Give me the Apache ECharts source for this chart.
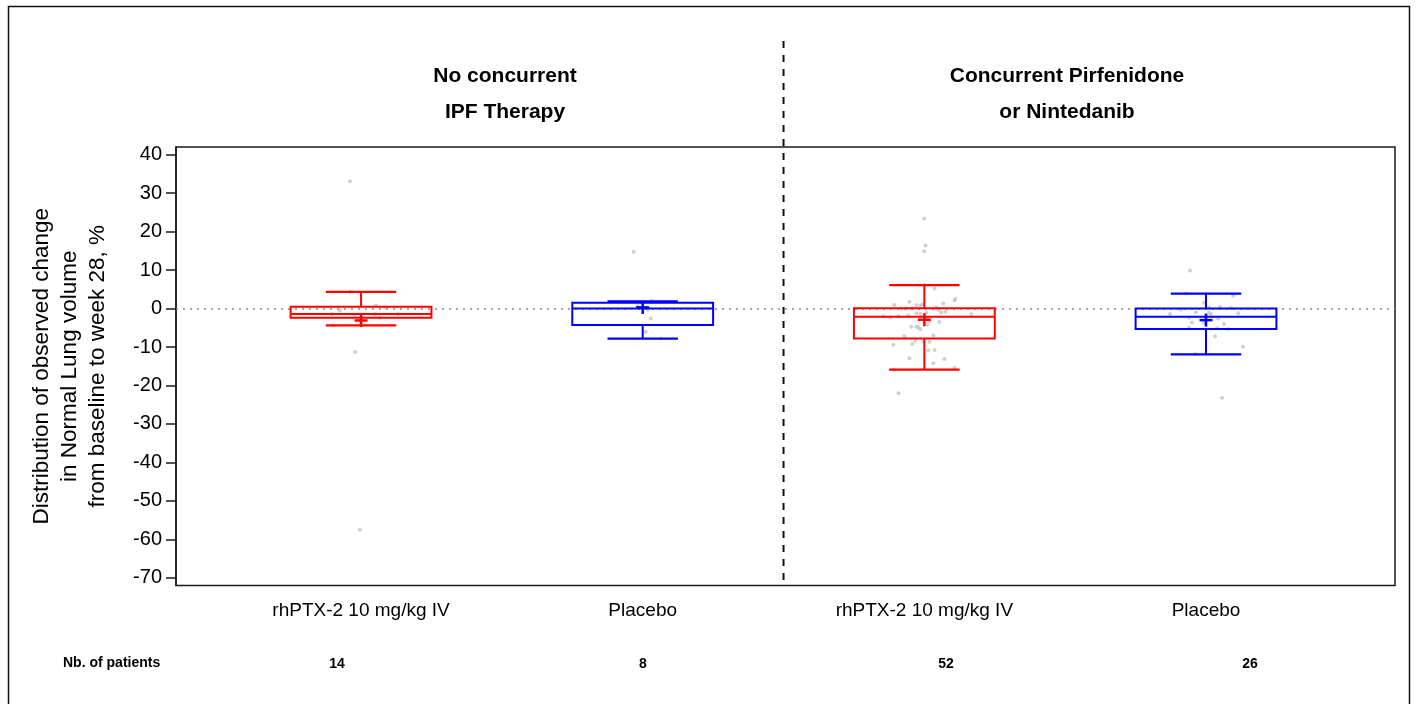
<!DOCTYPE html>
<html><head><meta charset="utf-8">
<script src="https://cdn.jsdelivr.net/npm/echarts@6/dist/echarts.min.js"></script>
<style>html,body{margin:0;padding:0;background:#fff}#c{width:1416px;height:704px}</style>
</head><body><div id="c"></div>
<script>
// ---------------- data ----------------
const categories = ['rhPTX-2 10 mg/kg IV', 'Placebo', 'rhPTX-2 10 mg/kg IV', 'Placebo'];
const panelTitles = ['No concurrent\nIPF Therapy', 'Concurrent Pirfenidone\nor Nintedanib'];
const patientLabel = 'Nb. of patients';
const patientCounts = [14, 8, 52, 26];
const yTicks = [-70, -60, -50, -40, -30, -20, -10, 0, 10, 20, 30, 40];
const yTitle = 'Distribution of observed change\nin Normal Lung volume\nfrom baseline to week 28, %';
const separatorAt = 2.5;
// box statistics: [lower whisker, Q1, median, Q3, upper whisker, mean]
const boxStats = [
  [-4.35, -2.4, -1.4, 0.45, 4.35, -3.1],
  [-7.8, -4.25, 0.0, 1.5, 1.9, 0.3],
  [-15.9, -7.8, -2.1, 0.1, 6.1, -2.9],
  [-11.9, -5.3, -2.1, 0.0, 3.9, -3.0]
];
// individual observations: [horizontal jitter (category units), value]
const pts1 = [[-0.039, 33.1], [-0.004, -57.5], [-0.021, -11.3], [-0.039, 4.35], [0.053, 0.8], [-0.075, -0.5], [-0.103, -1.4],
  [-0.025, -1.65], [0.050, -1.4], [0.067, -2.4], [0.131, -1.4], [-0.099, -4.35], [0.000, -3.0], [0.085, 0.3]];
const pts2 = [[-0.032, 14.75], [0.032, 2.0], [-0.018, 0.6], [0.028, -2.6], [0.011, -6.0], [0.064, -7.8], [0.000, 1.5], [0.018, -0.3]];
const pts3 = [[0.036, 5.2], [0.110, 2.5], [0.107, 2.1], [0.067, 1.3], [-0.107, 0.9], [-0.028, 0.9], [-0.007, 1.1], [-0.053, 1.8],
  [-0.064, 0.0], [-0.082, 0.0], [0.050, -0.35], [0.075, -0.8], [0.167, -1.4], [-0.028, -1.2], [-0.014, -1.4], [-0.146, -2.0],
  [-0.121, -2.3], [-0.092, -2.0], [-0.057, -1.8], [0.004, -2.95], [0.018, -3.3], [-0.046, -4.7], [-0.028, -4.7], [-0.021, -4.9],
  [-0.014, -5.4], [0.011, -4.2], [-0.071, -7.2], [0.032, -7.0], [-0.032, -8.4], [-0.043, -9.2], [-0.004, -8.6], [0.018, -8.6],
  [-0.110, -9.4], [0.014, -10.9], [0.036, -10.8], [-0.053, -12.9], [0.071, -13.1], [0.032, -14.2], [0.107, -15.4], [-0.107, -15.9],
  [-0.014, 0.7], [0.007, -1.1], [0.043, 0.2], [0.060, -1.0], [0.000, 23.4], [0.004, 16.4], [0.000, 14.9], [-0.092, -22.05],
  [0.000, 6.1], [0.000, -2.1], [0.053, -3.5], [-0.043, 0.1]];
const pts4 = [[0.096, 3.3], [-0.007, 1.5], [-0.128, -1.4], [-0.036, -0.95], [0.018, -1.4], [0.011, -1.1], [0.114, -1.2], [0.043, -2.6],
  [-0.060, -2.4], [-0.050, -3.6], [-0.007, -3.7], [-0.060, -4.9], [0.039, -5.1], [0.078, -5.3], [0.032, -7.2], [0.131, -9.9],
  [-0.071, 3.9], [0.089, 0.2], [0.011, 0.2], [-0.039, -11.8], [-0.057, 9.9], [0.057, -23.2], [0.000, -2.1], [-0.089, -0.3],
  [0.064, -4.0], [0.050, 0.5]];
const points = [pts1, pts2, pts3, pts4];

// ---------------- chart ----------------
const FONT = "'Liberation Sans', Arial, sans-serif";
const boxColors = ['#ff0000', '#0000ff', '#ff0000', '#0000ff'];
const BOX_W = 0.5, CAP_W = 0.25;
const X_MIN = 0.343, X_MAX = 4.671;

const chart = echarts.init(document.getElementById('c'), null, { renderer: 'canvas' });

const boxData = boxStats.map((s, i) => [i + 1].concat(s));
const scatterData = [];
points.forEach((arr, gi) => arr.forEach(p => scatterData.push([gi + 1 + p[0], p[1]])));

function renderBox(params, api) {
  const x = api.value(0);
  const lo = api.coord([x, api.value(1)]);
  const q1 = api.coord([x, api.value(2)]);
  const med = api.coord([x, api.value(3)]);
  const q3 = api.coord([x, api.value(4)]);
  const hi = api.coord([x, api.value(5)]);
  const mn = api.coord([x, api.value(6)]);
  const bw = api.size([BOX_W, 0])[0];
  const cw = api.size([CAP_W, 0])[0];
  const cx = med[0];
  const color = boxColors[params.dataIndex];
  const line = (x1, y1, x2, y2, lw) => ({ type: 'line', shape: { x1, y1, x2, y2 }, style: { stroke: color, lineWidth: lw || 2 } });
  const arm = 6.5;
  return {
    type: 'group',
    children: [
      { type: 'rect', shape: { x: cx - bw / 2, y: q3[1], width: bw, height: q1[1] - q3[1] }, style: { stroke: color, lineWidth: 2, fill: 'rgba(0,0,0,0)' } },
      line(cx - bw / 2, med[1], cx + bw / 2, med[1]),
      line(cx, q3[1], cx, hi[1]),
      line(cx, q1[1], cx, lo[1]),
      line(cx - cw / 2, hi[1], cx + cw / 2, hi[1], 2.2),
      line(cx - cw / 2, lo[1], cx + cw / 2, lo[1], 2.2),
      line(cx - arm, mn[1], cx + arm, mn[1], 2.5),
      line(cx, mn[1] - arm, cx, mn[1] + arm, 2.5)
    ]
  };
}

const titleStyle = { fontFamily: FONT, fontSize: 21, fontWeight: 'bold', color: '#000', lineHeight: 36 };
const option = {
  backgroundColor: '#fff',
  animation: false,
  textStyle: { fontFamily: FONT },
  title: [
    { text: panelTitles[0], left: 500, top: 53, textAlign: 'center', textStyle: titleStyle },
    { text: panelTitles[1], left: 1062, top: 53, textAlign: 'center', textStyle: titleStyle }
  ],
  grid: [
    { left: 176, right: 21, top: 147, bottom: 118.5, show: true, borderColor: '#1a1a1a', borderWidth: 1.5, backgroundColor: 'transparent', containLabel: false },
    { left: 176, right: 21, top: 38, bottom: 124, show: false }
  ],
  xAxis: [
    { type: 'value', gridIndex: 0, min: X_MIN, max: X_MAX,
      axisLine: { show: false }, axisTick: { show: false }, splitLine: { show: false },
      axisLabel: { customValues: [1, 2, 3, 4], formatter: v => categories[Math.round(v) - 1] || '',
        fontFamily: FONT, fontSize: 19, color: '#000', margin: 16 } },
    { type: 'value', gridIndex: 1, min: X_MIN, max: X_MAX, show: false }
  ],
  yAxis: [
    { type: 'value', gridIndex: 0, min: -72, max: 42,
      axisLine: { show: true, lineStyle: { color: '#1a1a1a', width: 1.5 } },
      axisTick: { show: true, customValues: yTicks, length: 10, lineStyle: { color: '#1a1a1a', width: 1.5 } },
      axisLabel: { customValues: yTicks, fontFamily: FONT, fontSize: 20, color: '#000', margin: 14 },
      splitLine: { show: false },
      name: yTitle, nameLocation: 'middle', nameRotate: 90, nameGap: 64,
      nameTextStyle: { fontFamily: FONT, fontSize: 22.5, color: '#000', lineHeight: 28, align: 'center' } },
    { type: 'value', gridIndex: 1, min: 0, max: 1, show: false }
  ],
  series: [
    { type: 'scatter', xAxisIndex: 0, yAxisIndex: 0, data: scatterData, symbolSize: 4, z: 2, silent: true,
      itemStyle: { color: '#c4c4c4' },
      markLine: { silent: true, symbol: 'none', label: { show: false },
        lineStyle: { type: [2, 5], color: '#8a8a8a', width: 1.6 },
        data: [{ yAxis: 0 }] } },
    { type: 'custom', xAxisIndex: 0, yAxisIndex: 0, data: boxData, renderItem: renderBox, z: 5, silent: true,
      encode: { x: 0, y: [1, 2, 3, 4, 5, 6] } },
    { type: 'line', xAxisIndex: 1, yAxisIndex: 1, data: [[separatorAt, 0], [separatorAt, 1]], symbol: 'none', silent: true, z: 6,
      lineStyle: { type: [7, 7], color: '#111', width: 2 } }
  ],
  graphic: [
    { type: 'rect', left: 6, top: 4, shape: { width: 1401, height: 760 }, style: { fill: 'none', stroke: '#111', lineWidth: 1.5 }, silent: true },
    { type: 'text', left: 63, top: 656, style: { text: patientLabel, font: "bold 14px " + FONT, fill: '#000' } },
    { type: 'text', x: 337, y: 664, style: { text: String(patientCounts[0]), font: "bold 14px " + FONT, fill: '#000', align: 'center', verticalAlign: 'middle' } },
    { type: 'text', x: 643, y: 664, style: { text: String(patientCounts[1]), font: "bold 14px " + FONT, fill: '#000', align: 'center', verticalAlign: 'middle' } },
    { type: 'text', x: 946, y: 664, style: { text: String(patientCounts[2]), font: "bold 14px " + FONT, fill: '#000', align: 'center', verticalAlign: 'middle' } },
    { type: 'text', x: 1250, y: 664, style: { text: String(patientCounts[3]), font: "bold 14px " + FONT, fill: '#000', align: 'center', verticalAlign: 'middle' } }
  ]
};
chart.setOption(option);
</script>
</body></html>
